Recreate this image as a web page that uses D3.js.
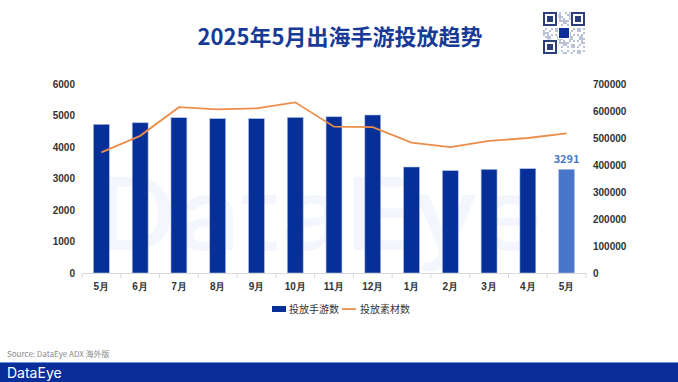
<!DOCTYPE html>
<html>
<head>
<meta charset="utf-8">
<script src="https://cdn.jsdelivr.net/npm/d3@7"></script>
<style>
  body { margin: 0; background: #fff; }
  svg { display: block; font-family: "Noto Sans CJK SC", "Noto Sans", sans-serif; }
</style>
</head>
<body>
<div id="chart"></div>
<script>
var months = ["5月", "6月", "7月", "8月", "9月", "10月", "11月", "12月", "1月", "2月", "3月", "4月", "5月"];
var gameCounts = [4720, 4770, 4930, 4900, 4900, 4940, 4960, 5016, 3365, 3250, 3292, 3311, 3291];
var creativeCounts = [447000, 508000, 614000, 606000, 610000, 632000, 542000, 540000, 483000, 466000, 489000, 500000, 517000];
var leftTicks = [0, 1000, 2000, 3000, 4000, 5000, 6000];
var rightTicks = [0, 100000, 200000, 300000, 400000, 500000, 600000, 700000];

var W = 678, H = 382;
var margin = {top: 84, right: 92, bottom: 109, left: 82};

var svg = d3.select("#chart").append("svg")
    .attr("width", W)
    .attr("height", H);

// watermark
svg.append("text")
    .attr("x", 95).attr("y", 250)
    .attr("font-family", "Inter, 'Noto Sans', sans-serif")
    .attr("font-size", 100)
    .attr("font-weight", 500)
    .attr("fill", "#f3f7fd")
    .attr("textLength", 448)
    .attr("lengthAdjust", "spacingAndGlyphs")
    .text("DataEye");

// title
svg.append("text")
    .attr("x", 340).attr("y", 45)
    .attr("text-anchor", "middle")
    .attr("font-size", 22)
    .attr("font-weight", "bold")
    .attr("fill", "#173a96")
    .text("2025年5月出海手游投放趋势");

// qr code style block
var qr = svg.append("g").attr("transform", "translate(543,12)");
var cell = 2, n = 21;
for (var r = 0; r < n; r++) {
    for (var c = 0; c < n; c++) {
        var h = (r * 31 + c * 17 + r * c * 7) % 11;
        if (h < 5) {
            qr.append("rect").attr("x", c * cell).attr("y", r * cell)
                .attr("width", cell).attr("height", cell).attr("fill", "#b9c2d6");
        }
    }
}
[[0, 0], [14, 0], [0, 14]].forEach(function(p) {
    qr.append("rect").attr("x", p[0] * cell - 0.5).attr("y", p[1] * cell - 0.5)
        .attr("width", 8 * cell).attr("height", 8 * cell).attr("fill", "#fff");
    qr.append("rect").attr("x", p[0] * cell + 1).attr("y", p[1] * cell + 1)
        .attr("width", 7 * cell - 2).attr("height", 7 * cell - 2)
        .attr("fill", "none").attr("stroke", "#2b3f7a").attr("stroke-width", 2);
    qr.append("rect").attr("x", p[0] * cell + 4).attr("y", p[1] * cell + 4)
        .attr("width", 3 * cell).attr("height", 3 * cell).attr("fill", "#2b3f7a");
});
qr.append("rect").attr("x", 15).attr("y", 15).attr("width", 12).attr("height", 12).attr("fill", "#fff");
qr.append("rect").attr("x", 16).attr("y", 16).attr("width", 10).attr("height", 10).attr("fill", "#0b2e99");

var g = svg.append("g");
var x0 = margin.left, x1 = W - margin.right, y0 = H - margin.bottom, y1 = margin.top;

var x = d3.scaleBand().domain(d3.range(months.length)).range([x0, x1]).paddingInner(0.59).paddingOuter(0.295);
var xb = d3.scaleBand().domain(d3.range(months.length)).range([x0, x1]);
var yL = d3.scaleLinear().domain([0, 6000]).range([y0, y1]);
var yR = d3.scaleLinear().domain([0, 700000]).range([y0, y1]);

// bars
g.selectAll(".bar").data(gameCounts).enter().append("rect")
    .attr("class", "bar")
    .attr("x", function(d, i) { return x(i); })
    .attr("y", function(d) { return yL(d); })
    .attr("width", x.bandwidth())
    .attr("height", function(d) { return y0 - yL(d); })
    .attr("fill", function(d, i) { return i == months.length - 1 ? "#4a76c9" : "#062f97"; })
    .attr("stroke", "#aebfe6")
    .attr("stroke-width", 0.6);

// last bar label
var last = months.length - 1;
g.append("text")
    .attr("x", x(last) + x.bandwidth() / 2)
    .attr("y", yL(gameCounts[last]) - 6)
    .attr("text-anchor", "middle")
    .attr("font-size", 11)
    .attr("font-weight", "bold")
    .attr("fill", "#4a76c9")
    .text(gameCounts[last]);

// line
var line = d3.line()
    .x(function(d, i) { return xb(i) + xb.bandwidth() / 2; })
    .y(function(d) { return yR(d); });
g.append("path").datum(creativeCounts)
    .attr("d", line)
    .attr("fill", "none")
    .attr("stroke", "#ea8e4a")
    .attr("stroke-width", 1.8);

// x axis
var xAxis = g.append("g").attr("transform", "translate(0," + y0 + ")")
    .call(d3.axisBottom(xb).tickFormat(function(i) { return months[i]; }).tickSize(0).tickPadding(10));
xAxis.select(".domain").attr("stroke", "#d9d9d9");
xAxis.selectAll(".tick").append("line")
    .attr("x1", -xb.bandwidth() / 2).attr("x2", -xb.bandwidth() / 2)
    .attr("y1", 0).attr("y2", 5).attr("stroke", "#d9d9d9");
xAxis.append("line").attr("x1", x1).attr("x2", x1).attr("y1", 0).attr("y2", 5).attr("stroke", "#d9d9d9");
xAxis.selectAll("text").attr("font-size", 10).attr("font-weight", "bold").attr("fill", "#333");

// left axis
var leftAxis = g.append("g").attr("transform", "translate(" + (x0 - 7) + ",0)")
    .call(d3.axisLeft(yL).tickValues(leftTicks).tickFormat(d3.format("d")).tickSize(0).tickPadding(0));
leftAxis.select(".domain").remove();
leftAxis.selectAll("text").attr("font-size", 10).attr("font-weight", "bold").attr("fill", "#333");

// right axis
var rightAxis = g.append("g").attr("transform", "translate(" + (x1 + 7) + ",0)")
    .call(d3.axisRight(yR).tickValues(rightTicks).tickFormat(d3.format("d")).tickSize(0).tickPadding(0));
rightAxis.select(".domain").remove();
rightAxis.selectAll("text").attr("font-size", 10).attr("font-weight", "bold").attr("fill", "#333");

// legend
var lg = svg.append("g").attr("transform", "translate(272,309)");
lg.append("rect").attr("x", 0).attr("y", -3).attr("width", 14).attr("height", 6).attr("fill", "#062f97");
lg.append("text").attr("x", 17).attr("y", 4).attr("font-size", 10).attr("fill", "#333").text("投放手游数");
lg.append("line").attr("x1", 70).attr("x2", 84).attr("y1", 0).attr("y2", 0)
    .attr("stroke", "#ea8e4a").attr("stroke-width", 1.8);
lg.append("text").attr("x", 88).attr("y", 4).attr("font-size", 10).attr("fill", "#333").text("投放素材数");

// source
svg.append("text").attr("x", 7).attr("y", 357)
    .attr("font-size", 8).attr("fill", "#888")
    .text("Source: DataEye ADX 海外版");

// footer bar
svg.append("rect").attr("x", 0).attr("y", 362).attr("width", W).attr("height", 20).attr("fill", "#0a2e99");
svg.append("line").attr("x1", 0).attr("x2", W).attr("y1", 362.5).attr("y2", 362.5).attr("stroke", "#6b8fe0");
svg.append("text").attr("x", 7).attr("y", 378)
    .attr("font-family", "Inter, 'Noto Sans', sans-serif")
    .attr("font-size", 14).attr("fill", "#fff")
    .text("DataEye");
</script>
</body>
</html>
